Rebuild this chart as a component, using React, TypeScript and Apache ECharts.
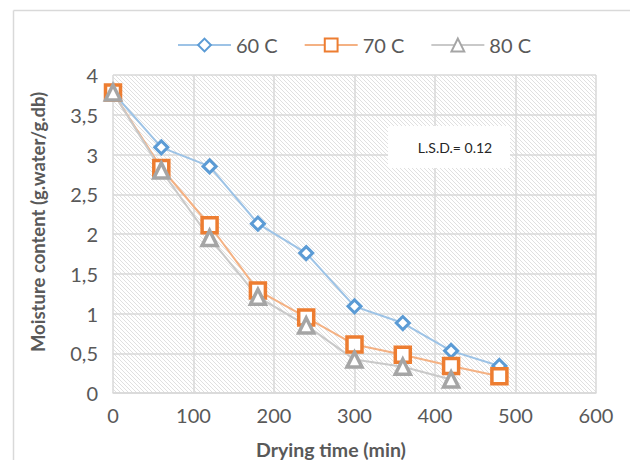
import React, { useEffect, useRef } from "react";
import * as echarts from "echarts";

const dryingTime = [0, 60, 120, 180, 240, 300, 360, 420, 480];
const moisture60 = [3.78, 3.09, 2.85, 2.13, 1.76, 1.09, 0.88, 0.53, 0.34];
const moisture70 = [3.78, 2.83, 2.11, 1.29, 0.95, 0.61, 0.48, 0.34, 0.21];
const moisture80 = [3.78, 2.8, 1.95, 1.21, 0.85, 0.42, 0.33, 0.17];
const seriesNames = ["60 C", "70 C", "80 C"];
const xTickValues = [0, 100, 200, 300, 400, 500, 600];
const yTickValues = [0, 0.5, 1, 1.5, 2, 2.5, 3, 3.5, 4];
const xAxisTitle = "Drying time (min)";
const yAxisTitle = "Moisture content (g.water/g.db)";
const lsdNote = "L.S.D.= 0.12";

const FONT = "Lato, 'Open Sans', sans-serif";

function makeHatch(): HTMLCanvasElement {
  const c = document.createElement("canvas");
  c.width = 4;
  c.height = 4;
  const ctx = c.getContext("2d")!;
  ctx.fillStyle = "#ffffff";
  ctx.fillRect(0, 0, 4, 4);
  ctx.fillStyle = "#e0e0e0";
  for (let x = 0; x < 4; x++) {
    for (let y = 0; y < 4; y++) {
      if ((((x - y) % 4) + 4) % 4 === 0) ctx.fillRect(x, y, 1, 1);
    }
  }
  return c;
}

export default function App() {
  const ref = useRef<HTMLDivElement>(null);
  useEffect(() => {
    if (!ref.current) return;
    const chart = echarts.init(ref.current, null, { renderer: "svg" });
    const pair = (arr: number[]) => arr.map((v, i) => [dryingTime[i], v]);
    const xMin = xTickValues[0];
    const xMax = xTickValues[xTickValues.length - 1];
    const yMin = yTickValues[0];
    const yMax = yTickValues[yTickValues.length - 1];
    chart.setOption({
      animation: false,
      backgroundColor: "#ffffff",
      textStyle: { fontFamily: FONT },
      grid: {
        left: 113,
        right: 34,
        top: 75,
        bottom: 67,
        show: true,
        borderWidth: 0,
        backgroundColor: { image: makeHatch(), repeat: "repeat" },
      },
      legend: {
        left: 177,
        top: 35,
        padding: 0,
        itemWidth: 53,
        itemHeight: 16,
        itemGap: 26,
        textStyle: { fontSize: 20, color: "#595959", fontFamily: FONT, padding: [0, 0, 0, 0] },
        data: seriesNames,
      },
      xAxis: {
        type: "value",
        min: xMin,
        max: xMax,
        interval: 100,
        axisLine: { show: true, lineStyle: { color: "#d9d9d9", width: 1.5 } },
        axisTick: { show: false },
        axisLabel: { color: "#595959", fontSize: 20, fontFamily: FONT, margin: 12 },
        splitLine: { show: true, lineStyle: { color: "#d9d9d9", width: 1.5 } },
      },
      yAxis: {
        type: "value",
        min: yMin,
        max: yMax,
        interval: 0.5,
        axisLine: { show: false },
        axisTick: { show: false },
        axisLabel: {
          color: "#595959",
          fontSize: 20,
          fontFamily: FONT,
          margin: 15,
          formatter: (v: number) => String(v).replace(".", ","),
        },
        splitLine: { show: true, lineStyle: { color: "#d9d9d9", width: 1.5 } },
      },
      graphic: [
        {
          type: "line",
          shape: { x1: 13.5, y1: 10.5, x2: 640, y2: 10.5 },
          style: { stroke: "#d9d9d9", lineWidth: 1.5 },
        },
        {
          type: "line",
          shape: { x1: 13.5, y1: 10.5, x2: 13.5, y2: 470 },
          style: { stroke: "#d9d9d9", lineWidth: 1.5 },
        },
        {
          type: "rect",
          z: 100,
          shape: { x: 388, y: 126, width: 122, height: 42 },
          style: { fill: "#ffffff" },
        },
        {
          type: "text",
          z: 101,
          x: 455,
          y: 147,
          style: {
            text: lsdNote,
            fill: "#262626",
            font: `14px ${FONT}`,
            align: "center",
            verticalAlign: "middle",
          },
        },
        {
          type: "text",
          x: 331,
          y: 449,
          style: {
            text: xAxisTitle,
            fill: "#595959",
            font: `bold 19.5px ${FONT}`,
            align: "center",
            verticalAlign: "middle",
          },
        },
        {
          type: "text",
          x: 38,
          y: 222,
          rotation: Math.PI / 2,
          style: {
            text: yAxisTitle,
            fill: "#595959",
            font: `bold 18.5px ${FONT}`,
            align: "center",
            verticalAlign: "middle",
          },
        },
      ],
      series: [
        {
          name: seriesNames[0],
          type: "line",
          data: pair(moisture60),
          symbol: "diamond",
          symbolSize: 13,
          lineStyle: { color: "#9dc3e6", width: 2 },
          itemStyle: { color: "#ffffff", borderColor: "#5b9bd5", borderWidth: 3 },
          emphasis: { disabled: true },
        },
        {
          name: seriesNames[1],
          type: "line",
          data: pair(moisture70),
          symbol: "rect",
          symbolSize: 15,
          lineStyle: { color: "#f4b183", width: 2 },
          itemStyle: { color: "#ffffff", borderColor: "#ed7d31", borderWidth: 3.5 },
          emphasis: { disabled: true },
        },
        {
          name: seriesNames[2],
          type: "line",
          data: pair(moisture80),
          symbol: "triangle",
          symbolSize: 15,
          lineStyle: { color: "#c9c9c9", width: 2 },
          itemStyle: { color: "#ffffff", borderColor: "#a5a5a5", borderWidth: 3.5 },
          emphasis: { disabled: true },
        },
      ],
    });
    return () => chart.dispose();
  }, []);
  return (
    <div
      ref={ref}
      style={{ position: "fixed", left: 0, top: 0, width: 630, height: 460 }}
    />
  );
}
